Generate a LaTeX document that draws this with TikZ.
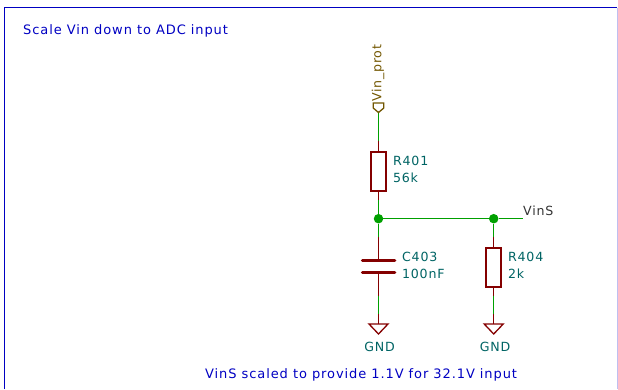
\documentclass[tikz,border=0pt]{standalone}
\usepackage{fontspec}
\setmainfont{DejaVu Sans}[LetterSpace=6]
\definecolor{wirec}{RGB}{0,160,0}
\definecolor{partc}{RGB}{132,0,0}
\definecolor{fieldc}{RGB}{0,100,100}
\definecolor{notec}{RGB}{0,0,194}
\definecolor{labelc}{RGB}{114,86,0}
\begin{document}
\begin{tikzpicture}[x=1pt,y=-1pt,
  wire/.style={wirec,line width=1.3pt},
  pinline/.style={partc,line width=1.3pt},
  body/.style={draw=partc,line width=2pt,minimum width=15pt,minimum height=39pt,inner sep=0pt,rectangle,anchor=north},
  plate/.style={partc,line width=3.4pt,line cap=round},
  dot/.style={circle,fill=wirec,inner sep=0pt,minimum size=9.5pt},
  gndsym/.style={partc,line width=1.3pt,line join=miter},
  field/.style={text=fieldc,font=\fontsize{12.6}{14}\selectfont,anchor=west,inner sep=0pt},
  netlabel/.style={text=black!80,font=\fontsize{12.6}{14}\selectfont,anchor=west,inner sep=0pt},
  note/.style={text=notec,font=\fontsize{13}{15}\selectfont\addfontfeature{LetterSpace=7},anchor=west,inner sep=0pt}]
\useasboundingbox (0,0) rectangle (618,389);
% sheet frame
\draw[notec,line width=1.5pt] (4.4,389) -- (4.4,7.5) -- (617,7.5);
\draw[notec!25,line width=1pt] (617.5,7.5) -- (617.5,389);
% notes
\node[note] (n1) at (23,30.5) {Scale Vin down to ADC input};
\node[note] (n2) at (205,375) {VinS scaled to provide 1.1V for 32.1V input};
% parts
\node[body] (R401) at (378.5,151) {};
\node[body] (R404) at (493.7,247) {};
\node[field] (R401r) at (393,161) {R401};
\node[field] (R401v) at (393,178) {56k};
\node[field] (C403r) at (402,257) {C403};
\node[field] (C403v) at (402,274) {100nF};
\node[field] (R404r) at (508,257) {R404};
\node[field] (R404v) at (508,274) {2k};
\coordinate (plA) at (378.5,260.7);
\coordinate (plB) at (378.5,272.3);
\draw[plate] (362.5,260.7) -- (394.7,260.7);
\draw[plate] (362.5,272.3) -- (394.7,272.3);
% junctions
\node[dot] (J1) at (378.5,218.7) {};
\node[dot] (J2) at (493.7,218.7) {};
% coordinates
\coordinate (pin) at (378.5,112.5);
\coordinate (a) at (378.5,141);
\coordinate (b) at (378.5,200);
\coordinate (c) at (378.5,237);
\coordinate (d) at (378.5,296);
\coordinate (e) at (378.5,314);
\coordinate (G1) at (378.5,324);
\coordinate (f) at (493.7,237);
\coordinate (g) at (493.7,296);
\coordinate (h) at (493.7,314);
\coordinate (G2) at (493.7,324);
\coordinate (out) at (522.7,218.7);
% wires
\draw[wire] (pin) -- (a);
\draw[pinline] (a) -- (R401.north);
\draw[pinline] (R401.south) -- (b);
\draw[wire] (b) -- (J1) -- (c);
\draw[pinline] (c) -- (plA);
\draw[pinline] (plB) -- (d);
\draw[wire] (d) -- (e);
\draw[pinline] (e) -- (G1);
\draw[wire] (J1) -- (J2) -- (out);
\draw[wire] (J2) -- (f);
\draw[pinline] (f) -- (R404.north);
\draw[pinline] (R404.south) -- (g);
\draw[wire] (g) -- (h);
\draw[pinline] (h) -- (G2);
% GND symbols
\draw[gndsym] (G1) ++(-9.5,0) -- ++(19,0) -- ++(-9.5,10) -- cycle;
\draw[gndsym] (G2) ++(-9.5,0) -- ++(19,0) -- ++(-9.5,10) -- cycle;
\node[field,anchor=center] (g1t) at (379.5,347) {GND};
\node[field,anchor=center] (g2t) at (495,347) {GND};
% net labels
\node[netlabel] (vins) at (523,211) {VinS};
\draw[labelc,line width=1.3pt,line join=miter] (373.2,103) -- (383.8,103) -- (383.8,108) -- (378.5,112.5) -- (373.2,108) -- cycle;
\node[text=labelc,font=\fontsize{12.6}{14}\selectfont,anchor=west,inner sep=0pt,rotate=90] (vp) at (378,102) {Vin\_prot};
\end{tikzpicture}
\end{document}
